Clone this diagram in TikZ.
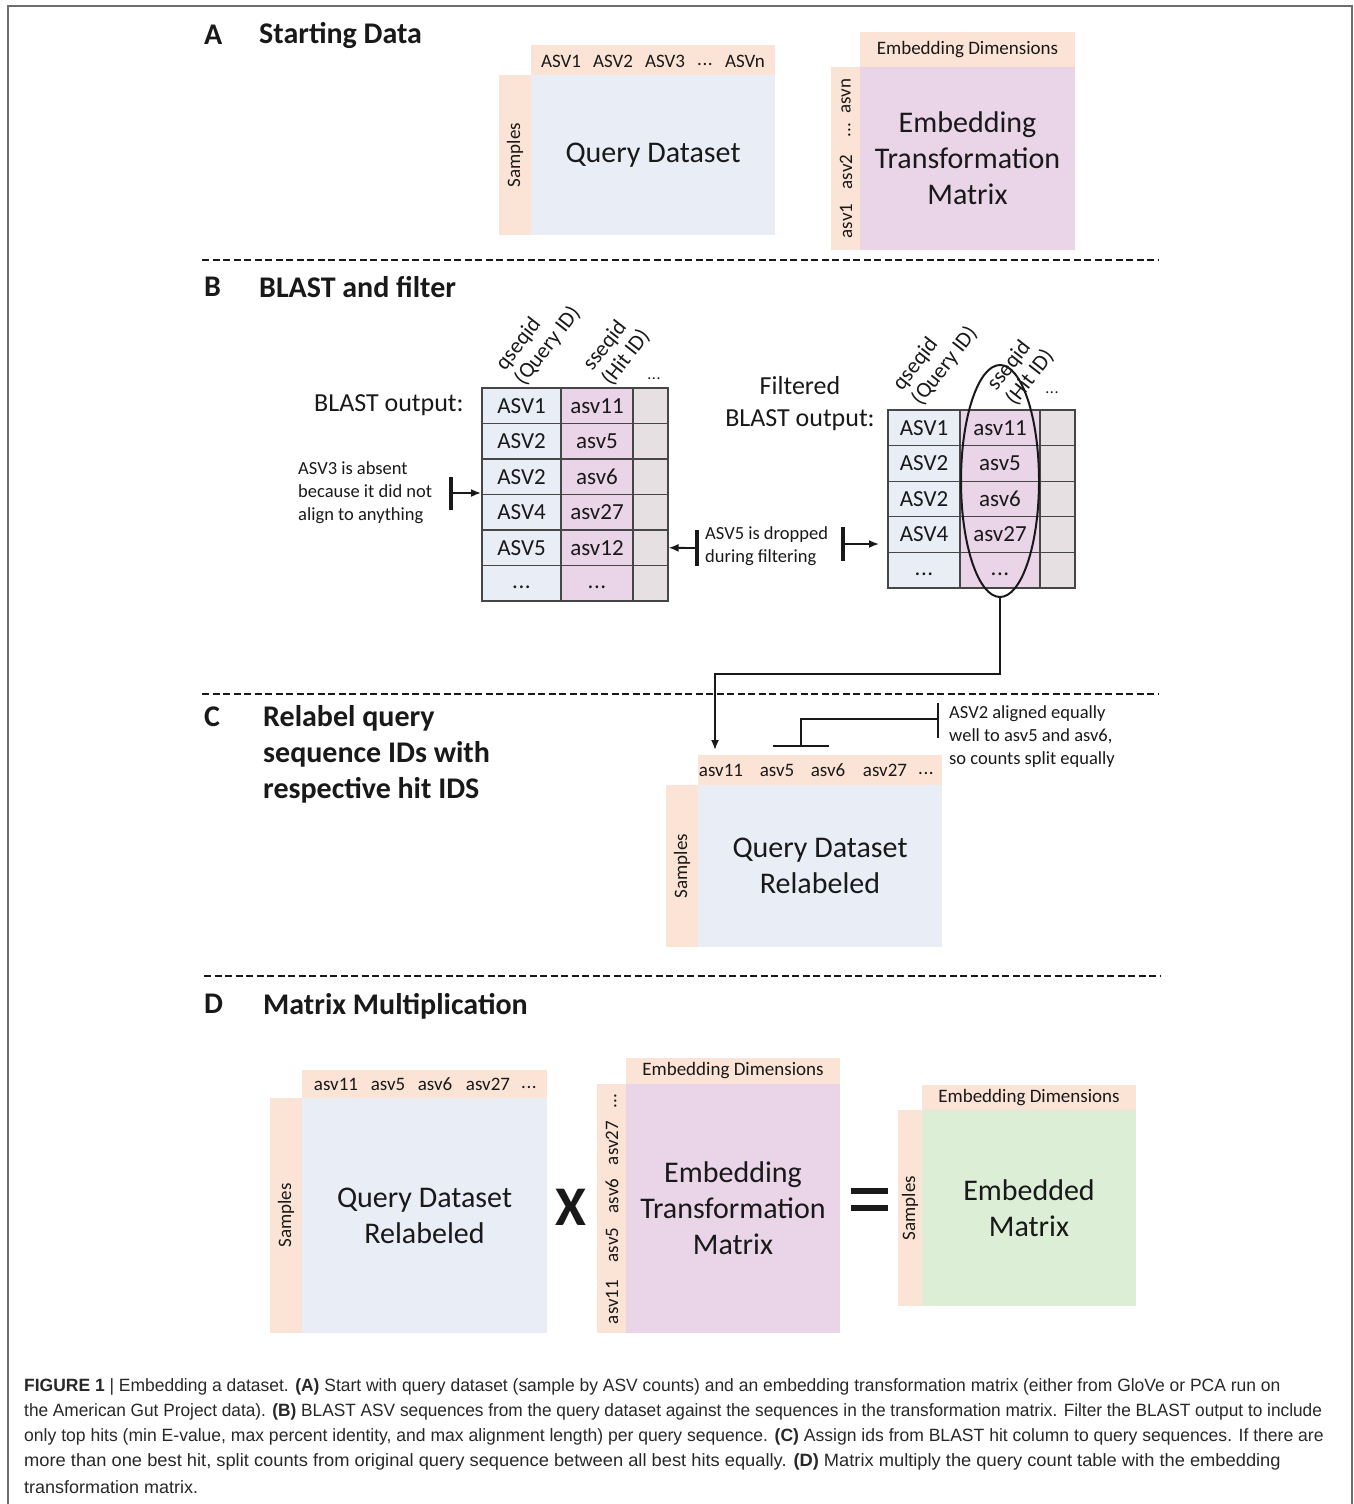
\documentclass[tikz,border=0pt]{standalone}
\usepackage{fontspec}
\usepackage{graphicx}
\setmainfont{Carlito}
\newfontfamily\capfont{Liberation Sans}
\usetikzlibrary{shapes.geometric,arrows.meta}
\definecolor{peach}{RGB}{251,228,214}
\definecolor{qblue}{RGB}{233,237,246}
\definecolor{epink}{RGB}{234,212,232}
\definecolor{cgray}{RGB}{230,224,226}
\definecolor{egreen}{RGB}{221,238,215}
\definecolor{txt}{RGB}{25,25,25}
\definecolor{gridc}{RGB}{70,70,70}
\definecolor{captxt}{RGB}{40,40,40}
\definecolor{framec}{RGB}{110,110,110}
\newcommand{\pdots}{.\kern0.6pt.\kern0.6pt.}
\newcommand{\tdots}{\vphantom{Ag}.\kern0.6pt.\kern0.6pt.}
\begin{document}
\begin{tikzpicture}[x=1pt,y=-1pt,
  every node/.style={text=txt},
  strip/.style={fill=peach, inner sep=0, outer sep=0, anchor=north west},
  body/.style={inner sep=0, outer sep=0, anchor=north west, align=center, font=\fontsize{30}{36}\selectfont},
  hl/.style={font=\fontsize{19}{22}\selectfont, inner sep=0},
  vl/.style={font=\fontsize{19}{22}\selectfont, inner sep=0, rotate=90},
  sec/.style={font=\bfseries\fontsize{30}{36}\selectfont, anchor=west, inner sep=0, align=left},
  cell/.style={draw=gridc, line width=1.1, inner sep=0, font=\fontsize{23}{27}\selectfont},
  note/.style={font=\fontsize{18.5}{23}\selectfont, align=left, anchor=west, inner sep=0},
  rot/.style={font=\fontsize{22}{24}\selectfont, align=left, anchor=south west, rotate=52, inner sep=1},
  dline/.style={line width=1.4, dash pattern=on 7pt off 3.5pt, draw=txt},
  bar/.style={line width=3.5, draw=txt},
  arr/.style={line width=1.8, draw=txt, -{Latex[length=10pt,width=8pt]}},
  captext/.style={font=\capfont\fontsize{17.8}{25}\selectfont, anchor=west, inner sep=0, text=captxt},
]
\useasboundingbox (0,0) rectangle (1354,1504);
\fill[white] (0,0) rectangle (1354,1504);
\draw[framec, line width=1.2] (8,1510) -- (8,6) -- (1352,6) -- (1352,1510);

% ---------------- A
\node[sec] (lA) at (204,35) {A};
\node[sec] (tA) at (259,35) {Starting Data};

\node[strip, minimum width=244, minimum height=30] (qAh) at (531,45) {};
\node[strip, minimum width=32, minimum height=160] (qAs) at (499,75) {};
\node[body, fill=qblue, minimum width=244, minimum height=160] (qA) at (531,75) {Query Dataset};
\node[hl] (qAh1) at (561,61) {ASV1};
\node[hl] (qAh2) at (613,61) {ASV2};
\node[hl] (qAh3) at (665,61) {ASV3};
\node[hl] (qAh4) at (705,61) {\tdots};
\node[hl] (qAh5) at (745,61) {ASVn};
\node[vl] (qAsl) at (qAs.center) {Samples};

\node[strip, minimum width=215, minimum height=35] (eAh) at (860,32) {};
\node[strip, minimum width=29, minimum height=183] (eAs) at (831,67) {};
\node[body, fill=epink, minimum width=215, minimum height=183] (eA) at (860,67) {Embedding\\Transformation\\Matrix};
\node[hl] (eAhl) at (eAh.center) {Embedding Dimensions};
\node[vl] (eAs1) at (846,221) {asv1};
\node[vl] (eAs2) at (846,172) {asv2};
\node[vl] (eAs3) at (846,130) {\tdots};
\node[vl] (eAs4) at (846,96) {asvn};

\draw[dline] (202,260) -- (1158,260);

% ---------------- B
\node[sec] (lB) at (204,287) {B};
\node[sec] (tB) at (259,287) {BLAST and filter};

\node[font=\fontsize{26}{32}\selectfont, anchor=west, inner sep=0] (bo1) at (314,405) {BLAST output:};
\foreach \a/\b [count=\i from 0] in {ASV1/asv11,ASV2/asv5,ASV2/asv6,ASV4/asv27,ASV5/asv12,\tdots/\tdots}{
  \node[cell, fill=qblue, minimum width=79, minimum height=35.5] (ta-\i-1) at (521.5,405.75+35.5*\i) {\a};
  \node[cell, fill=epink, minimum width=72, minimum height=35.5] (ta-\i-2) at (597,405.75+35.5*\i) {\b};
  \node[cell, fill=cgray, minimum width=35, minimum height=35.5] (ta-\i-3) at (650.5,405.75+35.5*\i) {};
}
\node[rot] (tah1) at (527,390) {qseqid\\(Query ID)};
\node[rot] (tah2) at (614,390) {sseqid\\(Hit ID)};
\node[hl, font=\fontsize{16}{18}\selectfont] (tah3) at (654,379) {\pdots};

\node[note] (n3) at (298,493) {ASV3 is absent\\because it did not\\align to anything};
\draw[bar] (451,477) -- (451,510);
\coordinate (n3s) at (451,493);
\coordinate (n3e) at (481,493);
\draw[arr] (n3s) -- (n3e);

\node[font=\fontsize{26}{32}\selectfont, align=center, inner sep=0] (bo2) at (800,404) {Filtered\\BLAST output:};
\foreach \a/\b [count=\i from 0] in {ASV1/asv11,ASV2/asv5,ASV2/asv6,ASV4/asv27,\tdots/\tdots}{
  \node[cell, fill=qblue, minimum width=72, minimum height=35.6] (tb-\i-1) at (924,427.8+35.6*\i) {\a};
  \node[cell, fill=epink, minimum width=80, minimum height=35.6] (tb-\i-2) at (1000,427.8+35.6*\i) {\b};
  \node[cell, fill=cgray, minimum width=35, minimum height=35.6] (tb-\i-3) at (1057.5,427.8+35.6*\i) {};
}
\node[rot] (tbh1) at (924,410) {qseqid\\(Query ID)};
\node[rot] (tbh2) at (1018,410) {sseqid\\(Hit ID)};
\node[hl, font=\fontsize{16}{18}\selectfont] (tbh3) at (1052,393) {\pdots};
\node[ellipse, draw=txt, line width=2, minimum width=78, minimum height=232, inner sep=0] (ell) at (1000,481) {};

\node[note] (n5) at (705,546) {ASV5 is dropped\\during filtering};
\draw[bar] (697,530) -- (697,566);
\coordinate (n5a) at (697,548);
\draw[arr] (n5a) -- (ta-4-3.east);
\draw[bar] (843,527) -- (843,561);
\coordinate (n5b) at (843,544);
\coordinate (n5c) at (879,544);
\draw[arr] (n5b) -- (n5c);

\draw[dline] (202,694) -- (1158,694);

% ---------------- C
\node[sec] (lC) at (204,717) {C};
\node[sec] (tC) at (263,754) {Relabel query\\sequence IDs with\\respective hit IDS};

\node[strip, minimum width=244, minimum height=30] (qCh) at (698,755) {};
\node[strip, minimum width=32, minimum height=162] (qCs) at (666,785) {};
\node[body, fill=qblue, minimum width=244, minimum height=162] (qC) at (698,785) {Query Dataset\\Relabeled};
\node[hl] (c11) at (721,770) {asv11};
\node[hl] (c5) at (777,770) {asv5};
\node[hl] (c6) at (828,770) {asv6};
\node[hl] (c27) at (885,770) {asv27};
\node[hl] (cdots) at (926,770) {\tdots};
\node[vl] (qCsl) at (qCs.center) {Samples};

\coordinate (cin) at (715,750);
\draw[arr] (ell.south) -- ++(0,76) -| (cin);

\coordinate (brL) at (773,746);
\coordinate (brR) at (829,746);
\coordinate (brM) at (801,746);
\coordinate (brT) at (938,719);
\draw[line width=2, draw=txt] (brL) -- (brR);
\draw[line width=2, draw=txt] (brM) |- (brT);
\draw[line width=2, draw=txt] (938,703) -- (938,738);
\node[note] (n2) at (949,737) {ASV2 aligned equally\\well to asv5 and asv6,\\so counts split equally};

\draw[dline] (204,976) -- (1160,976);

% ---------------- D
\node[sec] (lD) at (204,1004) {D};
\node[sec] (tD) at (263,1006) {Matrix Multiplication};

\node[strip, minimum width=245, minimum height=28] (qDh) at (302,1070) {};
\node[strip, minimum width=32, minimum height=235] (qDs) at (270,1098) {};
\node[body, fill=qblue, minimum width=245, minimum height=235] (qD) at (302,1098) {Query Dataset\\Relabeled};
\node[hl] (d11) at (336,1084) {asv11};
\node[hl] (d5) at (388,1084) {asv5};
\node[hl] (d6) at (435,1084) {asv6};
\node[hl] (d27) at (488,1084) {asv27};
\node[hl] (ddots) at (529,1084) {\tdots};
\node[vl] (qDsl) at (qDs.center) {Samples};

\node[font=\bfseries\fontsize{56}{60}\selectfont, inner sep=0] (times) at (571,1207) {X};

\node[strip, minimum width=214, minimum height=26] (eDh) at (626,1058) {};
\node[strip, minimum width=29, minimum height=249] (eDs) at (597,1084) {};
\node[body, fill=epink, minimum width=214, minimum height=249] (eD) at (626,1084) {Embedding\\Transformation\\Matrix};
\node[hl] (eDhl) at (eDh.center) {Embedding Dimensions};
\node[vl] (eDs1) at (612,1302) {asv11};
\node[vl] (eDs2) at (612,1245) {asv5};
\node[vl] (eDs3) at (612,1196) {asv6};
\node[vl] (eDs4) at (612,1143) {asv27};
\node[vl] (eDs5) at (612,1101) {\tdots};

\fill[txt] (851,1188) rectangle (888,1194);
\fill[txt] (851,1205) rectangle (888,1211);

\node[strip, minimum width=214, minimum height=25] (mDh) at (922,1085) {};
\node[strip, minimum width=24, minimum height=196] (mDs) at (898,1110) {};
\node[body, fill=egreen, minimum width=214, minimum height=196] (mD) at (922,1110) {Embedded\\Matrix};
\node[hl] (mDhl) at (mDh.center) {Embedding Dimensions};
\node[vl] (mDsl) at (mDs.center) {Samples};

% ---------------- caption
\node[captext] (cap1) at (24,1387) {\scalebox{0.981}[1]{\textbf{FIGURE 1} | Embedding a dataset. \textbf{(A)} Start with query dataset (sample by ASV counts) and an embedding transformation matrix (either from GloVe or PCA run on}};
\node[captext] (cap2) at (24,1412) {\scalebox{0.970}[1]{the American Gut Project data). \textbf{(B)} BLAST ASV sequences from the query dataset against the sequences in the transformation matrix. Filter the BLAST output to include}};
\node[captext] (cap3) at (24,1437) {\scalebox{0.986}[1]{only top hits (min E-value, max percent identity, and max alignment length) per query sequence. \textbf{(C)} Assign ids from BLAST hit column to query sequences. If there are}};
\node[captext] (cap4) at (24,1462) {\scalebox{1.028}[1]{more than one best hit, split counts from original query sequence between all best hits equally. \textbf{(D)} Matrix multiply the query count table with the embedding}};
\node[captext] (cap5) at (24,1487) {\scalebox{1.01}[1]{transformation matrix.}};
\end{tikzpicture}
\end{document}
